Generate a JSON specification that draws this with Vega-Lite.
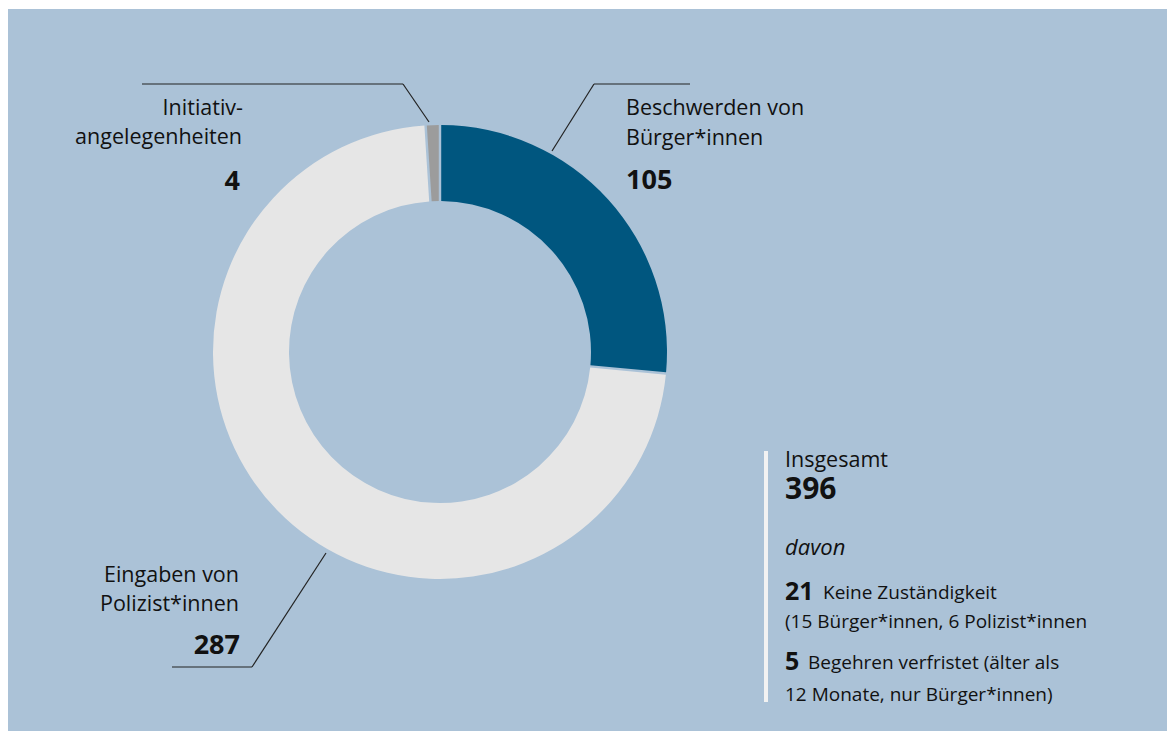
{
  "$schema": "https://vega.github.io/schema/vega-lite/v6.json",
  "width": 1159,
  "height": 722,
  "autosize": {"type": "none"},
  "padding": {"left": 8, "top": 9, "right": 0, "bottom": 0},
  "background": "#ffffff",
  "view": {"fill": "#abc2d7", "stroke": null},
  "config": {"font": "Open Sans", "text": {"color": "#111111"}},
  "layer": [
    {
      "data": {"values": [
        {"cat": "Beschwerden von Bürger*innen", "value": 105, "ord": 1},
        {"cat": "Eingaben von Polizist*innen", "value": 287, "ord": 2},
        {"cat": "Initiativangelegenheiten", "value": 4, "ord": 3}
      ]},
      "mark": {"type": "arc", "radius": 227, "radius2": 151, "padAngle": 0.009},
      "encoding": {
        "x": {"datum": 440, "type": "quantitative", "scale": {"domain": [8, 1167], "nice": false, "zero": false}, "axis": null},
        "y": {"datum": 352, "type": "quantitative", "scale": {"domain": [9, 731], "nice": false, "zero": false, "reverse": true}, "axis": null},
        "theta": {"field": "value", "type": "quantitative", "stack": true},
        "order": {"field": "ord", "type": "quantitative"},
        "color": {"field": "cat", "type": "nominal", "legend": null,
          "scale": {"domain": ["Beschwerden von Bürger*innen", "Eingaben von Polizist*innen", "Initiativangelegenheiten"], "range": ["#00567f", "#e6e6e6", "#9c9c9c"]}}
      }
    },
    {
      "data": {"values": [
        {"x": 142, "y": 84, "x2": 403, "y2": 84},
        {"x": 403, "y": 84, "x2": 429, "y2": 122},
        {"x": 594, "y": 84, "x2": 690, "y2": 84},
        {"x": 594, "y": 84, "x2": 552, "y2": 151},
        {"x": 326, "y": 553, "x2": 252, "y2": 667},
        {"x": 172, "y": 667, "x2": 252, "y2": 667}
      ]},
      "mark": {"type": "rule", "color": "#222222", "strokeWidth": 1.2},
      "encoding": {
        "x": {"field": "x", "type": "quantitative", "axis": null},
        "y": {"field": "y", "type": "quantitative", "axis": null},
        "x2": {"field": "x2"},
        "y2": {"field": "y2"}
      }
    },
    {
      "data": {"values": [{"x": 766, "y": 451, "y2": 702}]},
      "mark": {"type": "rule", "color": "#f2f2f2", "strokeWidth": 4},
      "encoding": {
        "x": {"field": "x", "type": "quantitative", "axis": null},
        "y": {"field": "y", "type": "quantitative", "axis": null},
        "y2": {"field": "y2"}
      }
    },
    {
      "data": {"values": [
        {"x": 243, "y": 115, "t": "Initiativ-"},
        {"x": 242, "y": 144, "t": "angelegenheiten"},
        {"x": 239, "y": 582, "t": "Eingaben von"},
        {"x": 239, "y": 611, "t": "Polizist*innen"}
      ]},
      "mark": {"type": "text", "align": "right", "baseline": "alphabetic", "fontSize": 21.5},
      "encoding": {
        "x": {"field": "x", "type": "quantitative", "axis": null},
        "y": {"field": "y", "type": "quantitative", "axis": null},
        "text": {"field": "t"}
      }
    },
    {
      "data": {"values": [
        {"x": 626, "y": 115, "t": "Beschwerden von"},
        {"x": 626, "y": 145, "t": "Bürger*innen"},
        {"x": 785, "y": 467, "t": "Insgesamt"}
      ]},
      "mark": {"type": "text", "align": "left", "baseline": "alphabetic", "fontSize": 21.5},
      "encoding": {
        "x": {"field": "x", "type": "quantitative", "axis": null},
        "y": {"field": "y", "type": "quantitative", "axis": null},
        "text": {"field": "t"}
      }
    },
    {
      "data": {"values": [
        {"x": 240, "y": 190, "t": "4"},
        {"x": 240, "y": 654, "t": "287"}
      ]},
      "mark": {"type": "text", "align": "right", "baseline": "alphabetic", "fontSize": 27, "fontWeight": "bold"},
      "encoding": {
        "x": {"field": "x", "type": "quantitative", "axis": null},
        "y": {"field": "y", "type": "quantitative", "axis": null},
        "text": {"field": "t"}
      }
    },
    {
      "data": {"values": [
        {"x": 626, "y": 189, "t": "105"}
      ]},
      "mark": {"type": "text", "align": "left", "baseline": "alphabetic", "fontSize": 27, "fontWeight": "bold"},
      "encoding": {
        "x": {"field": "x", "type": "quantitative", "axis": null},
        "y": {"field": "y", "type": "quantitative", "axis": null},
        "text": {"field": "t"}
      }
    },
    {
      "data": {"values": [
        {"x": 785, "y": 499, "t": "396"}
      ]},
      "mark": {"type": "text", "align": "left", "baseline": "alphabetic", "fontSize": 30, "fontWeight": "bold"},
      "encoding": {
        "x": {"field": "x", "type": "quantitative", "axis": null},
        "y": {"field": "y", "type": "quantitative", "axis": null},
        "text": {"field": "t"}
      }
    },
    {
      "data": {"values": [
        {"x": 785, "y": 555, "t": "davon"}
      ]},
      "mark": {"type": "text", "align": "left", "baseline": "alphabetic", "fontSize": 22, "fontStyle": "italic"},
      "encoding": {
        "x": {"field": "x", "type": "quantitative", "axis": null},
        "y": {"field": "y", "type": "quantitative", "axis": null},
        "text": {"field": "t"}
      }
    },
    {
      "data": {"values": [
        {"x": 785, "y": 600, "t": "21"},
        {"x": 785, "y": 670, "t": "5"}
      ]},
      "mark": {"type": "text", "align": "left", "baseline": "alphabetic", "fontSize": 25, "fontWeight": "bold"},
      "encoding": {
        "x": {"field": "x", "type": "quantitative", "axis": null},
        "y": {"field": "y", "type": "quantitative", "axis": null},
        "text": {"field": "t"}
      }
    },
    {
      "data": {"values": [
        {"x": 823, "y": 599, "t": "Keine Zuständigkeit"},
        {"x": 785, "y": 628, "t": "(15 Bürger*innen, 6 Polizist*innen"},
        {"x": 808, "y": 669, "t": "Begehren verfristet (älter als"},
        {"x": 785, "y": 701, "t": "12 Monate, nur Bürger*innen)"}
      ]},
      "mark": {"type": "text", "align": "left", "baseline": "alphabetic", "fontSize": 19},
      "encoding": {
        "x": {"field": "x", "type": "quantitative", "axis": null},
        "y": {"field": "y", "type": "quantitative", "axis": null},
        "text": {"field": "t"}
      }
    }
  ]
}
